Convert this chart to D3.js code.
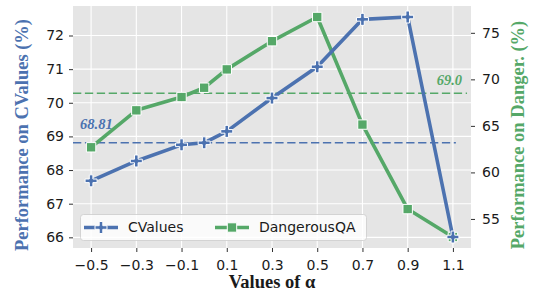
<!DOCTYPE html>
<html>
<head>
<meta charset="utf-8">
<script src="https://cdnjs.cloudflare.com/ajax/libs/d3/7.8.5/d3.min.js"></script>
<style>
    body { margin: 0; background: #ffffff; }
    svg { display: block; }
    .tick-label { font-family: "DejaVu Sans", sans-serif; font-size: 14px; fill: #1a1a1a; }
    .axis-title { font-family: "Liberation Serif", "Times New Roman", serif; font-weight: bold; font-size: 18.5px; }
    .note { font-family: "Liberation Serif", "Times New Roman", serif; font-weight: bold; font-style: italic; font-size: 14.5px; }
</style>
</head>
<body>
<svg id="chart" width="533" height="295"></svg>
<script>
// Data
var alphas = [-0.5, -0.3, -0.1, 0, 0.1, 0.3, 0.5, 0.7, 0.9, 1.1];
var cvalues = [67.68, 68.27, 68.75, 68.81, 69.15, 70.14, 71.07, 72.48, 72.55, 66.01];
var dangerous = [62.7, 66.67, 68.1, 69.1, 71.07, 74.1, 76.7, 65.14, 56.06, 53.06];
var xTicks = [-0.5, -0.3, -0.1, 0.1, 0.3, 0.5, 0.7, 0.9, 1.1];
var leftTicks = [66, 67, 68, 69, 70, 71, 72];
var rightTicks = [55, 60, 65, 70, 75];
var cvaluesBaseline = 68.81;
var dangerBaseline = 68.5;

// Colours
var _blue = "#4c72b0";
var _green = "#55a868";

// Plot area
var _left = 73, _right = 471, _top = 6, _bottom = 248;

var svg = d3.select("#chart");

// Margins of 5% like matplotlib
var padded = function(arr) {
    var lo = d3.min(arr), hi = d3.max(arr);
    var m = (hi - lo) * 0.05;
    return [lo - m, hi + m];
};

var x = d3.scaleLinear().domain(padded(alphas)).range([_left, _right]);
var yL = d3.scaleLinear().domain(padded(cvalues)).range([_bottom, _top]);
var yR = d3.scaleLinear().domain(padded(dangerous)).range([_bottom, _top]);

// background
svg.append("rect")
    .attr("x", _left).attr("y", _top)
    .attr("width", _right - _left).attr("height", _bottom - _top)
    .attr("fill", "#e5e5e5");

// grid
var grid = svg.append("g");
grid.selectAll(".gx").data(xTicks).enter().append("line")
    .attr("x1", function(d) { return x(d); }).attr("x2", function(d) { return x(d); })
    .attr("y1", _top).attr("y2", _bottom)
    .attr("stroke", "#ffffff").attr("stroke-width", 1.1);
grid.selectAll(".gy").data(leftTicks).enter().append("line")
    .attr("x1", _left).attr("x2", _right)
    .attr("y1", function(d) { return yL(d); }).attr("y2", function(d) { return yL(d); })
    .attr("stroke", "#ffffff").attr("stroke-width", 1.1);

// axes
var fmt = function(d) { return String(d).replace("-", "\u2212"); };

var xAxis = svg.append("g")
    .attr("transform", "translate(0," + _bottom + ")")
    .call(d3.axisBottom(x).tickValues(xTicks).tickSize(4).tickPadding(5).tickFormat(fmt));
var leftAxis = svg.append("g")
    .attr("transform", "translate(" + _left + ",0)")
    .call(d3.axisLeft(yL).tickValues(leftTicks).tickSize(4).tickPadding(5));
var rightAxis = svg.append("g")
    .attr("transform", "translate(" + _right + ",0)")
    .call(d3.axisRight(yR).tickValues(rightTicks).tickSize(4).tickPadding(7));

[xAxis, leftAxis, rightAxis].forEach(function(a) {
    a.select(".domain").remove();
    a.selectAll(".tick line").attr("stroke", "#1a1a1a").attr("stroke-width", 0.9);
    a.selectAll(".tick text").attr("class", "tick-label").attr("font-size", null).attr("font-family", null);
});
xAxis.selectAll(".tick text").attr("dy", "0.9em");

// baselines
svg.append("line")
    .attr("x1", _left).attr("x2", _left + (_right - _left) * 0.962)
    .attr("y1", yL(cvaluesBaseline)).attr("y2", yL(cvaluesBaseline))
    .attr("stroke", _blue).attr("stroke-width", 1.6).attr("stroke-dasharray", "8.3,3.6");
svg.append("line")
    .attr("x1", _left).attr("x2", _left + (_right - _left) * 0.99)
    .attr("y1", yR(dangerBaseline)).attr("y2", yR(dangerBaseline))
    .attr("stroke", _green).attr("stroke-width", 1.6).attr("stroke-dasharray", "8.3,3.6");

svg.append("text").attr("class", "note")
    .attr("x", 80).attr("y", 129).attr("fill", _blue).text("68.81");
svg.append("text").attr("class", "note")
    .attr("x", 462).attr("y", 85).attr("text-anchor", "end").attr("fill", _green).text("69.0");

// markers
var plusPath = function(s, t) {
    var a = s / 2, b = t / 2;
    return "M" + (-b) + "," + (-a) + "H" + b + "V" + (-b) + "H" + a + "V" + b + "H" + b +
        "V" + a + "H" + (-b) + "V" + b + "H" + (-a) + "V" + (-b) + "H" + (-b) + "Z";
};

var drawSeries = function(values, yScale, color, kind) {
    var line = d3.line()
        .x(function(d, i) { return x(alphas[i]); })
        .y(function(d) { return yScale(d); });
    svg.append("path")
        .datum(values)
        .attr("d", line)
        .attr("fill", "none")
        .attr("stroke", color)
        .attr("stroke-width", 3.6)
        .attr("stroke-linejoin", "round");

    var g = svg.append("g");
    g.selectAll("path").data(values).enter().append("path")
        .attr("transform", function(d, i) {
            return "translate(" + x(alphas[i]) + "," + yScale(d) + ")";
        })
        .attr("d", kind === "plus" ? plusPath(12, 3.6) : "M-4.7,-4.7H4.7V4.7H-4.7Z")
        .attr("fill", color)
        .attr("stroke", "#ffffff")
        .attr("stroke-width", 1);
};

drawSeries(dangerous, yR, _green, "square");
drawSeries(cvalues, yL, _blue, "plus");

// legend
var legend = svg.append("g");
legend.append("rect")
    .attr("x", 80.5).attr("y", 214.5).attr("width", 286).attr("height", 26)
    .attr("rx", 3)
    .attr("fill", "#ffffff").attr("fill-opacity", 0.8)
    .attr("stroke", "#cccccc").attr("stroke-width", 0.8);

var legendItems = [
    { name: "CValues", color: _blue, kind: "plus", x: 84 },
    { name: "DangerousQA", color: _green, kind: "square", x: 215 }
];
var li = legend.selectAll(".item").data(legendItems).enter().append("g")
    .attr("transform", function(d) { return "translate(" + d.x + ",227.5)"; });
li.append("line")
    .attr("x1", 0).attr("x2", 34).attr("y1", 0).attr("y2", 0)
    .attr("stroke", function(d) { return d.color; }).attr("stroke-width", 3.6);
li.append("path")
    .attr("transform", "translate(17,0)")
    .attr("d", function(d) { return d.kind === "plus" ? plusPath(12, 3.6) : "M-4.7,-4.7H4.7V4.7H-4.7Z"; })
    .attr("fill", function(d) { return d.color; })
    .attr("stroke", "#ffffff").attr("stroke-width", 1);
li.append("text")
    .attr("class", "tick-label")
    .attr("x", 44).attr("y", 0).attr("dy", "0.35em")
    .text(function(d) { return d.name; });

// axis titles
svg.append("text").attr("class", "axis-title")
    .attr("transform", "translate(28,135) rotate(-90)")
    .attr("text-anchor", "middle").attr("fill", _blue)
    .text("Performance on CValues (%)");
svg.append("text").attr("class", "axis-title")
    .attr("transform", "translate(524,135) rotate(-90)")
    .attr("text-anchor", "middle").attr("fill", _green)
    .text("Performance on Danger. (%)");
svg.append("text").attr("class", "axis-title")
    .attr("x", (_left + _right) / 2).attr("y", 288)
    .attr("text-anchor", "middle").attr("fill", "#1a1a1a")
    .text("Values of \u03b1");
</script>
</body>
</html>
